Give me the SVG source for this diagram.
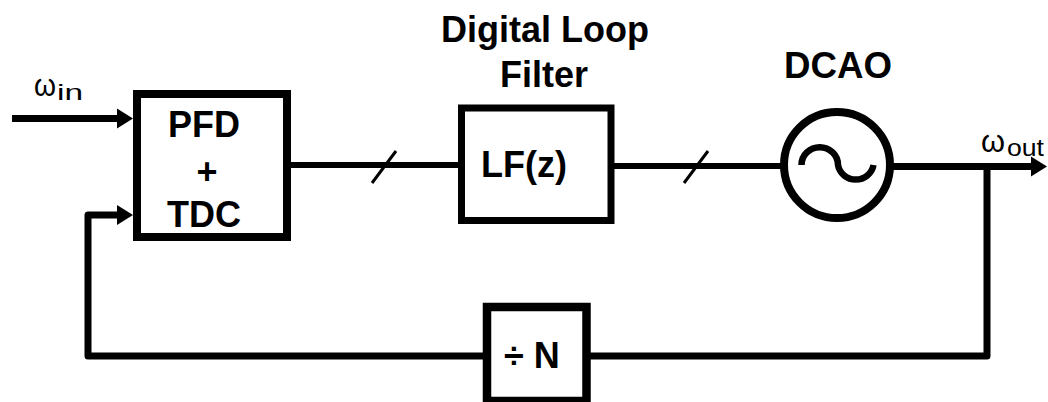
<svg xmlns="http://www.w3.org/2000/svg" xmlns:xlink="http://www.w3.org/1999/xlink" width="1048" height="402" viewBox="0 0 1048 402">
<style>
.box{fill:#fff;stroke:#000;stroke-width:8}
.ln{fill:none;stroke:#000;stroke-width:7;stroke-linejoin:round}
.bus{fill:none;stroke:#000;stroke-width:6}
.sl{fill:none;stroke:#000;stroke-width:3}
.t{font-family:"Liberation Sans",Arial,sans-serif;font-weight:bold;font-size:36px;fill:#000;text-anchor:middle}
.w{font-family:"Liberation Sans",Arial,sans-serif;fill:#000}
</style>
<defs>
<path id="ah" d="M-16,-10 L0,0 L-16,10 Z" fill="#000"/>
</defs>
<rect width="1048" height="402" fill="#fff"/>
<g id="connectors">
<path class="ln" d="M12,118.5 H120"/>
<use xlink:href="#ah" x="133" y="118.5"/>
<path class="ln" d="M987,166.5 V356 H590"/>
<path class="ln" d="M484,356 H88 V215 H120"/>
<use xlink:href="#ah" x="133" y="215"/>
<path class="bus" d="M291,165 H458"/>
<path class="sl" d="M372,183 L396,151"/>
<path class="bus" d="M614,166 H781"/>
<path class="sl" d="M684,183 L708,151"/>
<path class="ln" d="M893,166.5 H1034"/>
<use xlink:href="#ah" x="1047" y="166.5"/>
</g>
<g id="win">
<text class="w" x="34" y="96" font-size="31" textLength="22" lengthAdjust="spacingAndGlyphs">ω</text>
<text class="w" x="57" y="100" font-size="22" textLength="26" lengthAdjust="spacingAndGlyphs">in</text>
</g>
<g id="wout">
<text class="w" x="981" y="152" font-size="31" textLength="24" lengthAdjust="spacingAndGlyphs">ω</text>
<text class="w" x="1007" y="156" font-size="23" textLength="37" lengthAdjust="spacingAndGlyphs">out</text>
</g>
<g id="pfd">
<rect class="box" x="137" y="94" width="150" height="143"/>
<text class="t" x="204" y="137">PFD</text>
<text class="t" x="207" y="184">+</text>
<text class="t" x="204" y="227">TDC</text>
</g>
<g id="lf">
<text class="t" x="545" y="42" font-size="37">Digital Loop</text>
<text class="t" x="544" y="87" font-size="37">Filter</text>
<rect class="box" x="461.5" y="108" width="149.5" height="112.5" style="stroke-width:7"/>
<text class="t" x="524" y="177">LF(z)</text>
</g>
<g id="dcao">
<text class="t" x="838" y="78" font-size="37" textLength="108" lengthAdjust="spacingAndGlyphs">DCAO</text>
<circle cx="837" cy="165" r="53" fill="#fff" stroke="#000" stroke-width="8"/>
<path d="M801.5,165 A18,17.5 0 0 1 838,165 A18,17.5 0 0 0 873.5,165" fill="none" stroke="#000" stroke-width="6.5"/>
</g>
<g id="div">
<rect class="box" x="487" y="307" width="99.5" height="94" style="stroke-width:8.5"/>
<text class="t" x="532" y="368">÷ N</text>
</g>
</svg>
